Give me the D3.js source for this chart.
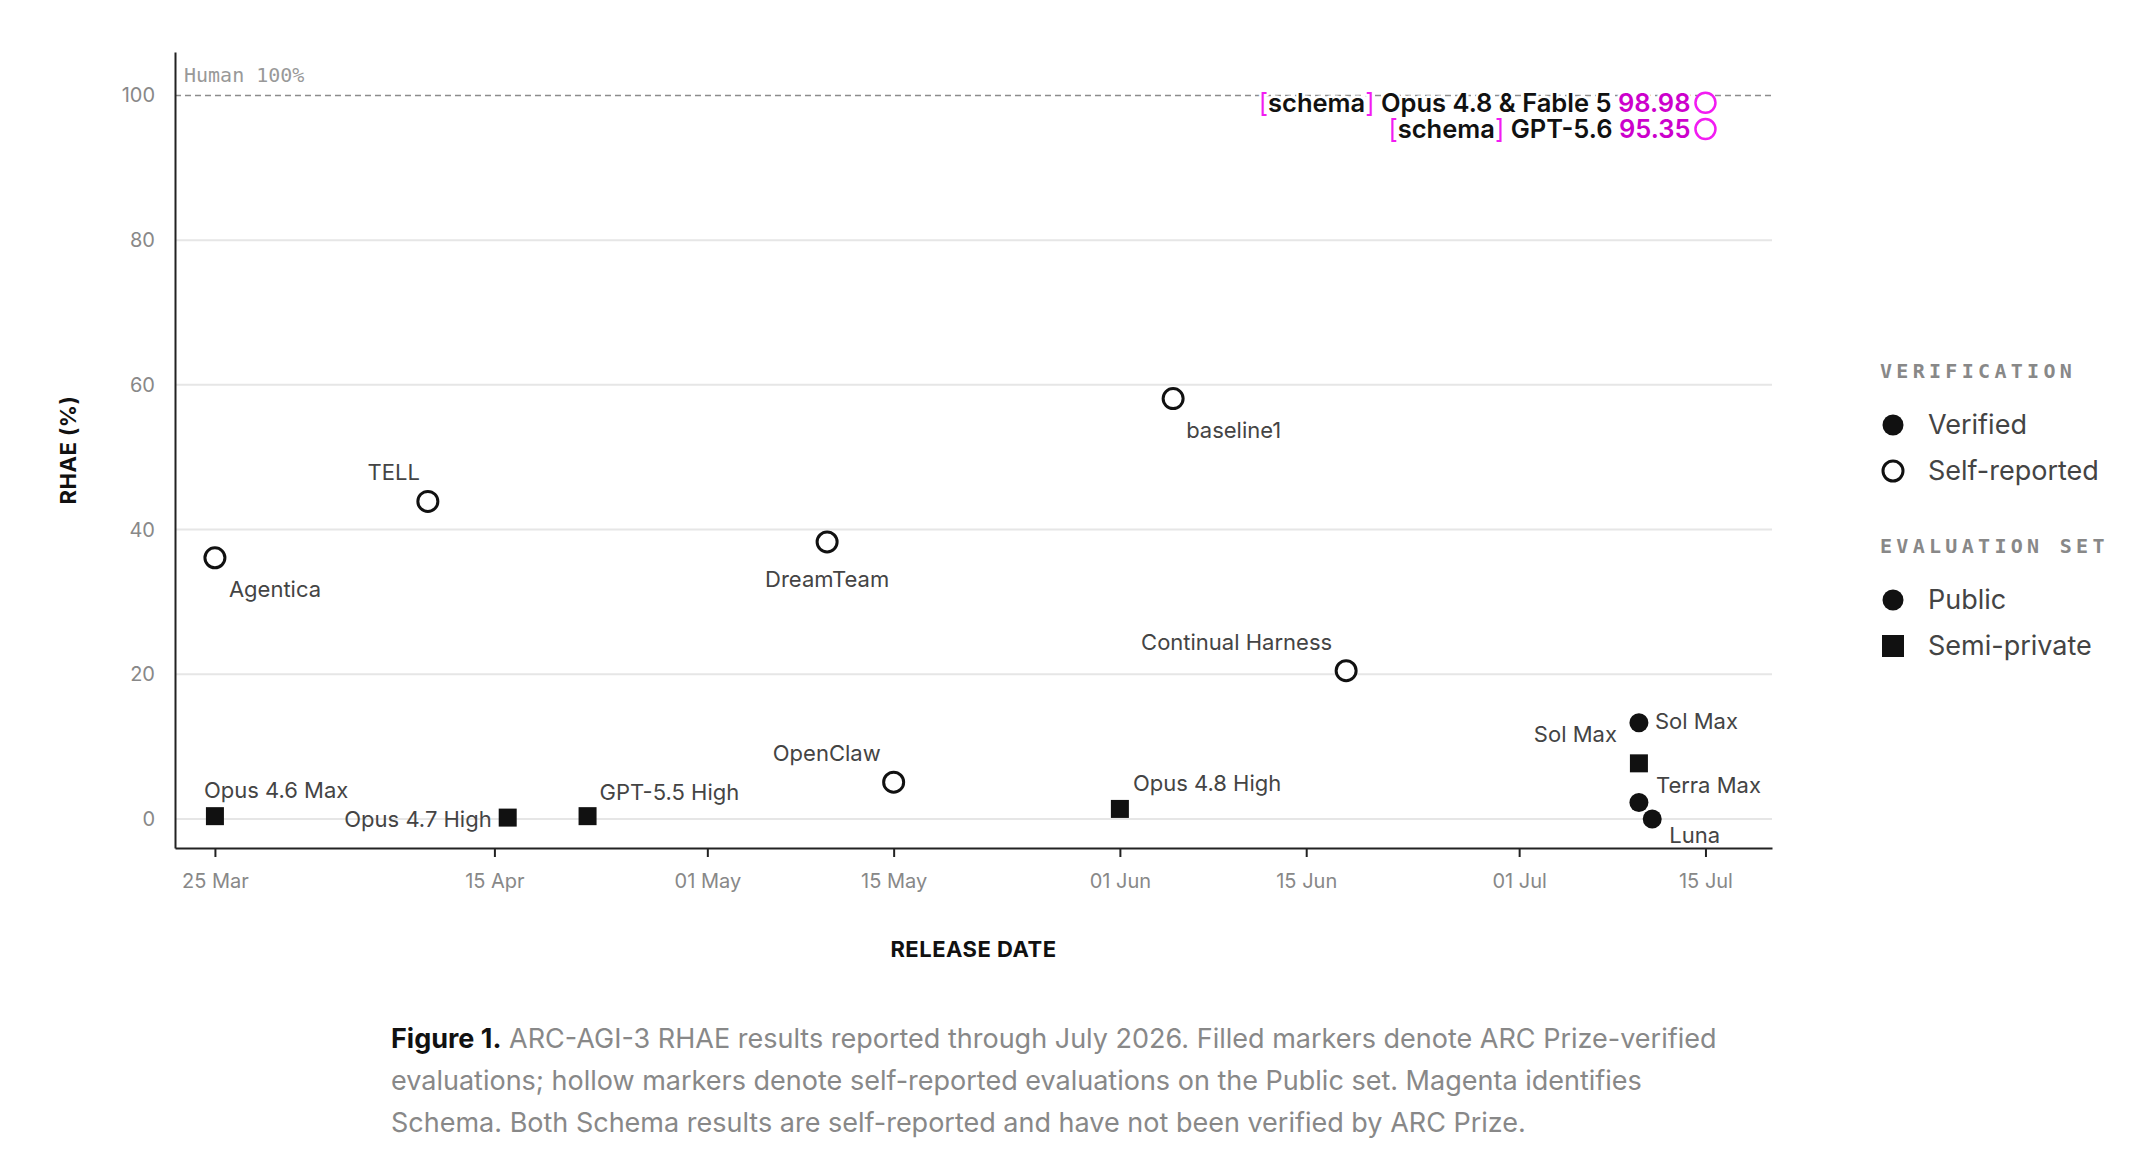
<!DOCTYPE html>
<html>
<head>
<meta charset="utf-8">
<script src="https://cdn.jsdelivr.net/npm/d3@7"></script>
<style>
  body { margin: 0; background: #fff; }
  svg { display: block; font-family: Inter, "Noto Sans", sans-serif; }
</style>
</head>
<body>
<svg id="chart" width="2140" height="1176"></svg>
<script>
// ---- data ----
// [name, release date, RHAE %]
var selfReportedPublic = [
  ["Agentica", "2026-03-25", 36.1],
  ["TELL", "2026-04-10", 43.9],
  ["DreamTeam", "2026-05-10", 38.3],
  ["OpenClaw", "2026-05-15", 5.1],
  ["baseline1", "2026-06-05", 58.1],
  ["Continual Harness", "2026-06-18", 20.5]
];
var verifiedSemiPrivate = [
  ["Opus 4.6 Max", "2026-03-25", 0.4],
  ["Opus 4.7 High", "2026-04-16", 0.2],
  ["GPT-5.5 High", "2026-04-22", 0.4],
  ["Opus 4.8 High", "2026-06-01", 1.4],
  ["Sol Max", "2026-07-10", 7.7]
];
var verifiedPublic = [
  ["Sol Max", "2026-07-10", 13.3],
  ["Terra Max", "2026-07-10", 2.3],
  ["Luna", "2026-07-11", 0.0]
];
var schemaResults = [
  ["Opus 4.8 & Fable 5", "2026-07-15", 98.98],
  ["GPT-5.6", "2026-07-15", 95.35]
];
var yTicks = [0, 20, 40, 60, 80, 100];
var xTicks = ["2026-03-25", "2026-04-15", "2026-05-01", "2026-05-15",
              "2026-06-01", "2026-06-15", "2026-07-01", "2026-07-15"];
var humanLevel = 100;

// label offsets (dx, dy, anchor), same order as the arrays above
var selfReportedLabels = [[14, 39, "start"], [-8, -21, "end"], [0, 45, "middle"],
                          [-13, -21, "end"], [13, 39, "start"], [-14, -21, "end"]];
var semiPrivateLabels = [[-11, -18, "start"], [-16, 9, "end"], [12, -16, "start"],
                         [13, -18, "start"], [-22, -21, "end"]];
var publicLabels = [[16, 6, "start"], [17, -9, "start"], [17, 24, "start"]];

// ---- layout ----
var plot = {left: 175, right: 1772, top: 52, bottom: 848};
var parse = d3.utcParse("%Y-%m-%d");
var ink = "#111";
var magenta = "#f21cf2";
var magentaText = "#cc00cc";

var svg = d3.select("#chart");

var x = d3.scaleUtc()
  .domain([parse("2026-03-22"), parse("2026-07-20")])
  .range([plot.left, plot.right]);
var y = d3.scaleLinear()
  .domain([-4, 106])
  .range([plot.bottom, plot.top]);

// gridlines
svg.append("g").selectAll("line")
  .data(yTicks.filter(function(d) { return d !== humanLevel; }))
  .join("line")
    .attr("x1", plot.left).attr("x2", plot.right)
    .attr("y1", function(d) { return y(d); })
    .attr("y2", function(d) { return y(d); })
    .attr("stroke", "#e6e6e6")
    .attr("stroke-width", 2);

// human baseline
svg.append("line")
  .attr("x1", plot.left).attr("x2", plot.right)
  .attr("y1", y(humanLevel)).attr("y2", y(humanLevel))
  .attr("stroke", "#8c8c8c")
  .attr("stroke-width", 1.5)
  .attr("stroke-dasharray", "6,4");
svg.append("text")
  .attr("x", plot.left + 9)
  .attr("y", y(humanLevel) - 13)
  .attr("font-family", "'DejaVu Sans Mono', monospace")
  .attr("font-size", 20)
  .attr("fill", "#999")
  .text("Human 100%");

// axes
var xAxis = svg.append("g")
  .attr("transform", "translate(0," + plot.bottom + ")")
  .call(d3.axisBottom(x)
    .tickValues(xTicks.map(parse))
    .tickFormat(d3.utcFormat("%d %b"))
    .tickSizeInner(9).tickSizeOuter(0).tickPadding(17));
var yAxis = svg.append("g")
  .attr("transform", "translate(" + plot.left + ",0)")
  .call(d3.axisLeft(y)
    .tickValues(yTicks)
    .tickSize(0).tickPadding(20));

[xAxis, yAxis].forEach(function(g) {
  g.attr("font-family", null).attr("font-size", null);
  g.select(".domain").attr("stroke", "#222").attr("stroke-width", 2);
  g.selectAll(".tick line").attr("stroke", "#222").attr("stroke-width", 2);
  g.selectAll(".tick text")
    .attr("font-family", "Inter, sans-serif")
    .attr("font-size", 20)
    .attr("fill", "#888");
});

// axis titles
svg.append("text")
  .attr("transform", "translate(76," + ((plot.top + plot.bottom) / 2) + ") rotate(-90)")
  .attr("text-anchor", "middle")
  .attr("font-size", 22)
  .attr("font-weight", 700)
  .attr("letter-spacing", 0.5)
  .attr("fill", ink)
  .text("RHAE (%)");
svg.append("text")
  .attr("x", (plot.left + plot.right) / 2)
  .attr("y", 957)
  .attr("text-anchor", "middle")
  .attr("font-size", 22)
  .attr("font-weight", 700)
  .attr("letter-spacing", 0.5)
  .attr("fill", ink)
  .text("RELEASE DATE");

// ---- markers ----
function cx(d) { return x(parse(d[1])); }
function cy(d) { return y(d[2]); }

function addLabels(data, placement) {
  svg.append("g").selectAll("text")
    .data(data)
    .join("text")
      .attr("x", function(d, i) { return cx(d) + placement[i][0]; })
      .attr("y", function(d, i) { return cy(d) + placement[i][1]; })
      .attr("text-anchor", function(d, i) { return placement[i][2]; })
      .attr("font-size", 22)
      .attr("fill", "#444")
      .text(function(d) { return d[0]; });
}

svg.append("g").selectAll("circle")
  .data(selfReportedPublic)
  .join("circle")
    .attr("cx", cx).attr("cy", cy)
    .attr("r", 10)
    .attr("fill", "#fff")
    .attr("stroke", ink)
    .attr("stroke-width", 3);
addLabels(selfReportedPublic, selfReportedLabels);

svg.append("g").selectAll("rect")
  .data(verifiedSemiPrivate)
  .join("rect")
    .attr("x", function(d) { return cx(d) - 9; })
    .attr("y", function(d) { return cy(d) - 9; })
    .attr("width", 18).attr("height", 18)
    .attr("fill", ink);
addLabels(verifiedSemiPrivate, semiPrivateLabels);

svg.append("g").selectAll("circle")
  .data(verifiedPublic)
  .join("circle")
    .attr("cx", cx).attr("cy", cy)
    .attr("r", 9.5)
    .attr("fill", ink);
addLabels(verifiedPublic, publicLabels);

// schema results, called out in magenta
var schema = svg.append("g");
schema.selectAll("circle")
  .data(schemaResults)
  .join("circle")
    .attr("cx", cx).attr("cy", cy)
    .attr("r", 10)
    .attr("fill", "#fff")
    .attr("stroke", magenta)
    .attr("stroke-width", 2.5);
var schemaText = schema.selectAll("text")
  .data(schemaResults)
  .join("text")
    .attr("x", function(d) { return cx(d) - 15; })
    .attr("y", function(d) { return cy(d); })
    .attr("dy", "0.35em")
    .attr("text-anchor", "end")
    .attr("font-size", 25.5)
    .attr("font-weight", 600)
    .attr("fill", ink)
    .attr("stroke", "#fff")
    .attr("stroke-width", 5)
    .attr("stroke-linejoin", "round")
    .attr("paint-order", "stroke");
schemaText.append("tspan").attr("fill", magenta).attr("font-weight", 400).text("[");
schemaText.append("tspan").text("schema");
schemaText.append("tspan").attr("fill", magenta).attr("font-weight", 400).text("]");
schemaText.append("tspan").text(function(d) { return " " + d[0] + " "; });
schemaText.append("tspan").attr("fill", magentaText)
  .text(function(d) { return d3.format(".2f")(d[2]); });

// ---- legend ----
var legend = svg.append("g").attr("transform", "translate(1880,0)");
var legendGroups = [
  {title: "VERIFICATION", y: 378, items: [["Verified", "filled"], ["Self-reported", "hollow"]]},
  {title: "EVALUATION SET", y: 553, items: [["Public", "filled"], ["Semi-private", "square"]]}
];
legendGroups.forEach(function(grp) {
  legend.append("text")
    .attr("x", 0).attr("y", grp.y)
    .attr("font-family", "'DejaVu Sans Mono', monospace")
    .attr("font-weight", 700)
    .attr("font-size", 20)
    .attr("letter-spacing", 4.3)
    .attr("fill", "#888")
    .text(grp.title);
  grp.items.forEach(function(it, i) {
    var iy = grp.y + 47 + i * 46;
    if (it[1] === "square") {
      legend.append("rect").attr("x", 2).attr("y", iy - 11)
        .attr("width", 22).attr("height", 22).attr("fill", ink);
    } else if (it[1] === "hollow") {
      legend.append("circle").attr("cx", 13).attr("cy", iy).attr("r", 10)
        .attr("fill", "#fff").attr("stroke", ink).attr("stroke-width", 3);
    } else {
      legend.append("circle").attr("cx", 13).attr("cy", iy).attr("r", 10.5)
        .attr("fill", ink);
    }
    legend.append("text")
      .attr("x", 48).attr("y", iy + 9)
      .attr("font-size", 27)
      .attr("fill", "#444")
      .text(it[0]);
  });
});

// ---- caption ----
var captionLines = [
  "ARC-AGI-3 RHAE results reported through July 2026. Filled markers denote ARC Prize-verified",
  "evaluations; hollow markers denote self-reported evaluations on the Public set. Magenta identifies",
  "Schema. Both Schema results are self-reported and have not been verified by ARC Prize."
];
var caption = svg.append("g").attr("font-size", 27).attr("fill", "#888");
captionLines.forEach(function(line, i) {
  var t = caption.append("text").attr("x", 391).attr("y", 1048 + i * 42);
  if (i === 0) {
    t.append("tspan").attr("font-weight", 700).attr("fill", ink).text("Figure 1.");
    t.append("tspan").text(" " + line);
  } else {
    t.text(line);
  }
});
</script>
</body>
</html>
